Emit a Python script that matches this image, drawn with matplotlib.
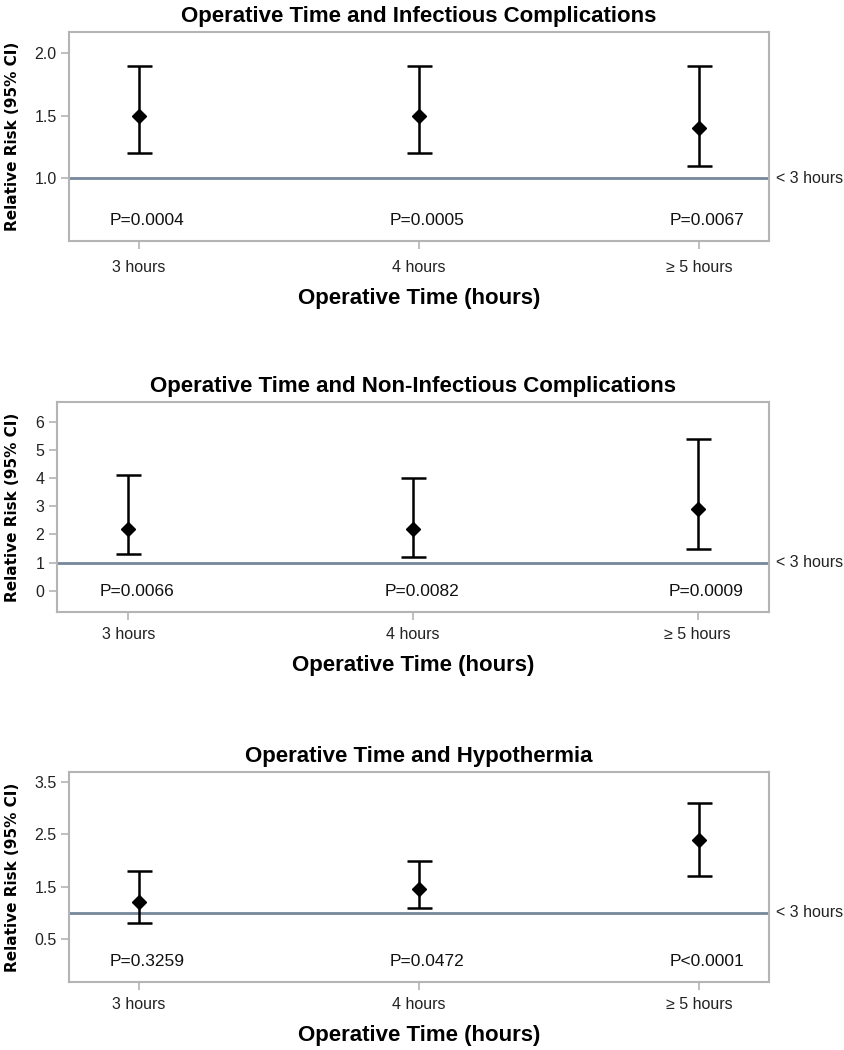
import matplotlib
matplotlib.use("Agg")
import matplotlib.pyplot as plt
import numpy as np

plt.rcParams['font.family'] = ['Liberation Sans', 'DejaVu Sans']

categories = ["3 hours", "4 hours", "\u2265 5 hours"]
ref_label = "< 3 hours"

titles = ["Operative Time and Infectious Complications",
          "Operative Time and Non-Infectious Complications",
          "Operative Time and Hypothermia"]

rr_infect = [1.5, 1.5, 1.4]
lo_infect = [1.2, 1.2, 1.1]
hi_infect = [1.9, 1.9, 1.9]
p_infect = ["P=0.0004", "P=0.0005", "P=0.0067"]

rr_noninf = [2.2, 2.2, 2.9]
lo_noninf = [1.3, 1.2, 1.5]
hi_noninf = [4.1, 4.0, 5.4]
p_noninf = ["P=0.0066", "P=0.0082", "P=0.0009"]

rr_hypo = [1.2, 1.45, 2.4]
lo_hypo = [0.8, 1.1, 1.7]
hi_hypo = [1.8, 2.0, 3.1]
p_hypo = ["P=0.3259", "P=0.0472", "P<0.0001"]

yticks_infect = [1.0, 1.5, 2.0]
yticks_noninf = [0, 1, 2, 3, 4, 5, 6]
yticks_hypo = [0.5, 1.5, 2.5, 3.5]

panels = [
    dict(title=titles[0], rr=rr_infect, lo=lo_infect, hi=hi_infect, p=p_infect,
         yticks=yticks_infect, fmt="{:.1f}", ylim=(0.5, 2.17),
         rect=[69/845, 1-241/1050, 700/845, 209/1050], xpad=8),
    dict(title=titles[1], rr=rr_noninf, lo=lo_noninf, hi=hi_noninf, p=p_noninf,
         yticks=yticks_noninf, fmt="{:d}", ylim=(-0.75, 6.7),
         rect=[57/845, 1-612/1050, 712/845, 210/1050], xpad=5),
    dict(title=titles[2], rr=rr_hypo, lo=lo_hypo, hi=hi_hypo, p=p_hypo,
         yticks=yticks_hypo, fmt="{:.1f}", ylim=(-0.32, 3.69),
         rect=[69/845, 1-982/1050, 700/845, 210/1050], xpad=5),
]

fig = plt.figure(figsize=(8.45, 10.5), dpi=100)
frame_col = "#b4b4b4"
ref_col = "#76879a"

for pnl in panels:
    ax = fig.add_axes(pnl["rect"])
    x = np.arange(len(categories))
    rr = np.array(pnl["rr"])
    lo = np.array(pnl["lo"])
    hi = np.array(pnl["hi"])
    ax.axhline(1.0, color=ref_col, lw=2, zorder=1)
    ax.errorbar(x, rr, yerr=[rr - lo, hi - rr], fmt="D", color="black",
                ecolor="black", elinewidth=1.8, capsize=9, capthick=1.8,
                markersize=7, zorder=3)
    ax.set_xlim(-0.25, 2.25)
    ax.set_ylim(*pnl["ylim"])
    ax.set_xticks(x)
    ax.set_xticklabels(categories, fontsize=11.5)
    ax.set_yticks(pnl["yticks"])
    ax.set_yticklabels([pnl["fmt"].format(v) for v in pnl["yticks"]], fontsize=11.5)
    for s in ax.spines.values():
        s.set_color(frame_col)
        s.set_linewidth(1.5)
    ax.tick_params(axis="both", color=frame_col, length=6, width=1.2,
                   labelcolor="#222222")
    ax.tick_params(axis="x", pad=pnl["xpad"])
    ax.tick_params(axis="y", pad=3)
    for xi, ptxt in zip(x, pnl["p"]):
        ax.text(xi + 0.03, 0.10, ptxt, transform=ax.get_xaxis_transform(),
                ha="center", va="center", fontsize=12.5, color="#111111")
    ax.text(1.01, 1.0, ref_label, transform=ax.get_yaxis_transform(),
            ha="left", va="center", fontsize=11.5, color="#222222")
    ax.set_title(pnl["title"], fontsize=16, fontweight="bold", pad=7)
    ax.set_xlabel("Operative Time (hours)", fontsize=16, fontweight="bold",
                  labelpad=9)
    ax.set_ylabel("Relative Risk (95% CI)", fontsize=11, fontweight="bold",
                  family="DejaVu Sans")
    left_px = pnl["rect"][0] * 845
    width_px = pnl["rect"][2] * 845
    ax.yaxis.set_label_coords((20 - left_px) / width_px, 0.5)

fig.savefig("out.png", dpi=100)
